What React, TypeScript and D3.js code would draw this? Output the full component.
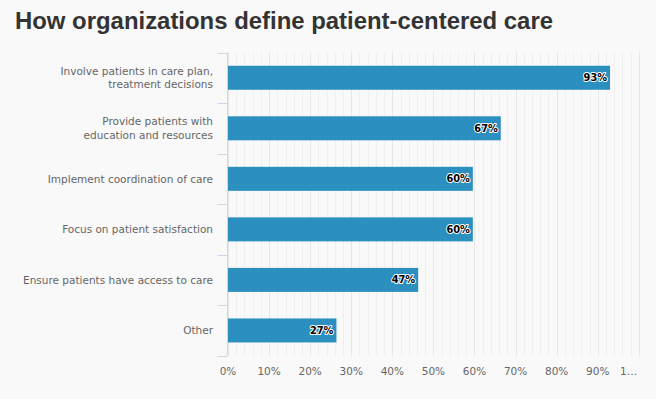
import React from "react";
import * as d3 from "d3";

const categories: string[][] = [
  ["Involve patients in care plan,", "treatment decisions"],
  ["Provide patients with", "education and resources"],
  ["Implement coordination of care"],
  ["Focus on patient satisfaction"],
  ["Ensure patients have access to care"],
  ["Other"],
];
const values: number[] = [93, 66.4, 59.6, 59.6, 46.3, 26.4];
const valueLabels: string[] = ["93%", "67%", "60%", "60%", "47%", "27%"];
const xTicks: number[] = [0, 10, 20, 30, 40, 50, 60, 70, 80, 90, 100];
const xTickLabels: string[] = ["0%", "10%", "20%", "30%", "40%", "50%", "60%", "70%", "80%", "90%", "1…"];

const W = 656;
const H = 399;
const plot = { left: 228, right: 638.8, top: 52.5, bottom: 355.7 };
const labelFont = "'DejaVu Sans', Verdana, sans-serif";

export default function App() {
  const x = d3.scaleLinear().domain([0, 100]).range([plot.left, plot.right]);
  const idx = categories.map((_, i) => i);
  const y = d3
    .scaleBand<number>()
    .domain(idx)
    .range([plot.top, plot.bottom])
    .paddingInner(0.525)
    .paddingOuter(0.2625);
  const yOuter = d3.scaleBand<number>().domain(idx).range([plot.top, plot.bottom]);
  const minor = d3.range(0, 101, 2);

  return (
    <svg
      width={W}
      height={H}
      style={{ position: "fixed", left: 0, top: 0, background: "#f9f9f9" }}
    >
      <rect x={0} y={0} width={W} height={H} fill="#f9f9f9" />
      <text
        x={15}
        y={29}
        fontFamily="'Liberation Sans', Arial, sans-serif"
        fontWeight="bold"
        fontSize={24}
        textLength={538}
        lengthAdjust="spacingAndGlyphs"
        fill="#333333"
      >
        How organizations define patient-centered care
      </text>

      {minor.map((v) => (
        <line
          key={"m" + v}
          x1={Math.round(x(v)) + 0.5}
          x2={Math.round(x(v)) + 0.5}
          y1={plot.top}
          y2={plot.bottom}
          stroke={v % 10 === 0 ? "#e6e6e6" : "#efefef"}
          strokeWidth={1}
        />
      ))}

      {/* category axis */}
      <line x1={227.5} x2={227.5} y1={plot.top} y2={plot.bottom} stroke="#ccd6eb" />
      {[...idx, idx.length].map((i) => {
        const yy = i < idx.length ? (yOuter(i) as number) : plot.bottom;
        return (
          <line
            key={"t" + i}
            x1={217.5}
            x2={227.5}
            y1={Math.round(yy) + 0.5}
            y2={Math.round(yy) + 0.5}
            stroke="#ccd6eb"
          />
        );
      })}

      {categories.map((lines, i) => {
        const cy = (yOuter(i) as number) + yOuter.bandwidth() / 2;
        const lh = 13.3;
        const start = cy - ((lines.length - 1) * lh) / 2;
        return (
          <text
            key={"c" + i}
            textAnchor="end"
            fontFamily={labelFont}
            fontSize={10.5}
            fill="#666666"
          >
            {lines.map((l, j) => (
              <tspan key={j} x={213} y={start + j * lh} dy="0.35em">
                {l}
              </tspan>
            ))}
          </text>
        );
      })}

      {values.map((v, i) => (
        <rect
          key={"b" + i}
          x={x(0)}
          y={y(i)}
          width={x(v) - x(0)}
          height={y.bandwidth()}
          fill="#2b90bf"
        />
      ))}

      {values.map((v, i) => (
        <text
          key={"l" + i}
          x={x(v) - 3}
          y={(y(i) as number) + y.bandwidth() / 2}
          dy="0.35em"
          textAnchor="end"
          fontFamily={labelFont}
          fontWeight="bold"
          fontSize={9.8}
          fill="#000000"
          stroke="#ffffff"
          strokeWidth={2}
          strokeLinejoin="round"
          paintOrder="stroke"
        >
          {valueLabels[i]}
        </text>
      ))}

      {xTicks.map((t, i) => {
        const last = i === xTicks.length - 1;
        return (
          <text
            key={"x" + t}
            x={last ? x(t) - 1.5 : x(t)}
            y={371}
            dy="0.35em"
            textAnchor={last ? "end" : "middle"}
            fontFamily={labelFont}
            fontSize={10.5}
            fill="#666666"
          >
            {xTickLabels[i]}
          </text>
        );
      })}
    </svg>
  );
}
